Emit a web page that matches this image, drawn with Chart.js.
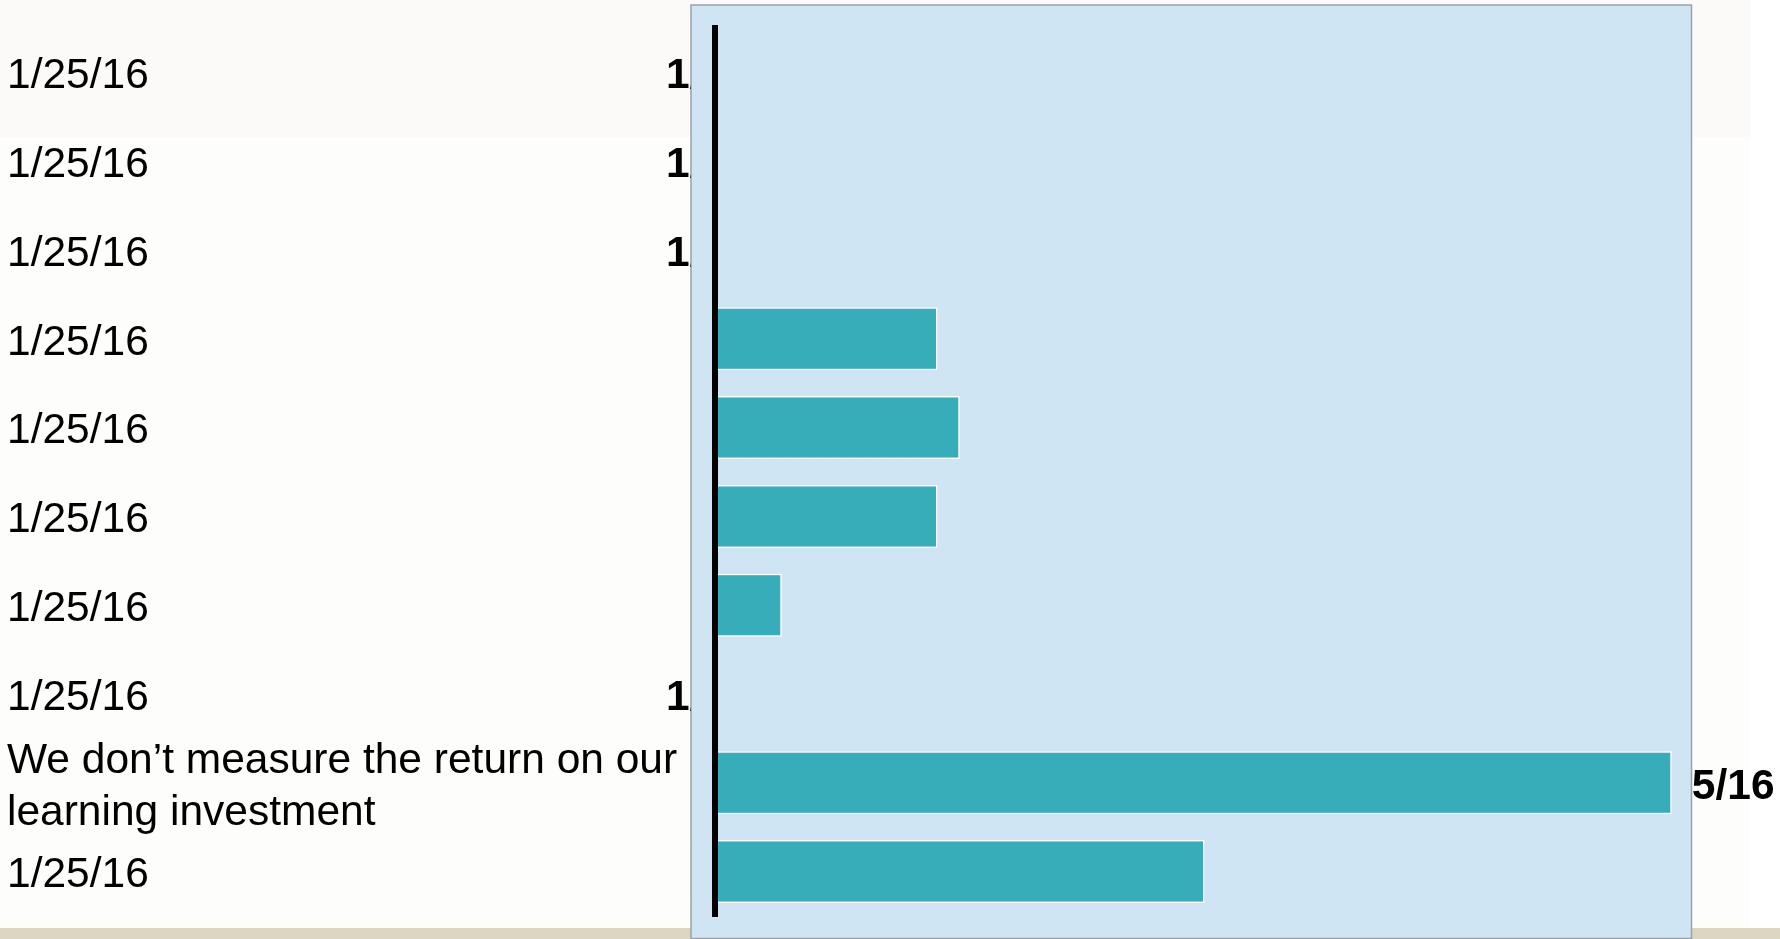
<!DOCTYPE html>
<html>
<head>
<meta charset="utf-8">
<script src="https://cdn.jsdelivr.net/npm/chart.js@4/dist/chart.umd.min.js"></script>
<style>
  html, body { margin: 0; padding: 0; background: #fdfdfb; overflow: hidden; }
  canvas { display: block; }
</style>
</head>
<body>
<canvas id="chart" width="1780" height="939"></canvas>
<script>
// Survey answers (category axis) and share of respondents, in percent
const categories = [
  '1/25/16',
  '1/25/16',
  '1/25/16',
  '1/25/16',
  '1/25/16',
  '1/25/16',
  '1/25/16',
  '1/25/16',
  ['We don\u2019t measure the return on our', 'learning investment'],
  '1/25/16'
];
const values = [0, 0, 0, 10, 11, 10, 3, 0, 43, 22];
const valueLabels = [
  '1/25/16', '1/25/16', '1/25/16', '1/25/16', '1/25/16',
  '1/25/16', '1/25/16', '1/25/16', '1/25/16', '1/25/16'
];
const valueAxisMax = 44;

const FONT = '"Liberation Sans", Arial, Helvetica, sans-serif';
const FONT_SIZE = 42.5;
const BAR_COLOR = '#37adb9';
const PANEL_FILL = '#cfe5f3';
const PANEL_EDGE = '#9ca1a6';
// light blue plot panel behind the bars
const PANEL = { left: 691, top: 5, right: 1691.5, bottom: 938.5 };

const slideBackground = {
  id: 'slideBackground',
  beforeDraw(chart) {
    const { ctx, width, height } = chart;
    ctx.save();
    ctx.fillStyle = '#fdfdfb';
    ctx.fillRect(0, 0, width, height);
    ctx.fillStyle = '#fbfaf8';
    ctx.fillRect(0, 0, 1750, 137);
    ctx.fillStyle = '#ffffff';
    ctx.fillRect(1750, 0, width - 1750, height);
    ctx.fillStyle = '#ddd6c1';
    ctx.fillRect(0, 928, width, height - 928);

    ctx.fillStyle = PANEL_FILL;
    ctx.fillRect(PANEL.left, PANEL.top, PANEL.right - PANEL.left, PANEL.bottom - PANEL.top);
    ctx.strokeStyle = PANEL_EDGE;
    ctx.lineWidth = 1.5;
    ctx.strokeRect(PANEL.left, PANEL.top, PANEL.right - PANEL.left, PANEL.bottom - PANEL.top);
    ctx.restore();
  }
};

// Value labels sit past each bar end; the panel hides the parts that fall on it
const barValueLabels = {
  id: 'barValueLabels',
  afterDraw(chart) {
    const { ctx } = chart;
    const xScale = chart.scales.x;
    const meta = chart.getDatasetMeta(0);
    ctx.save();
    ctx.beginPath();
    ctx.rect(0, 0, chart.width, chart.height);
    ctx.rect(PANEL.left, PANEL.top, PANEL.right - PANEL.left, PANEL.bottom - PANEL.top);
    ctx.clip('evenodd');
    ctx.font = 'bold ' + FONT_SIZE + 'px ' + FONT;
    ctx.fillStyle = '#000000';
    ctx.textAlign = 'center';
    ctx.textBaseline = 'middle';
    meta.data.forEach((bar, i) => {
      const v = values[i];
      const x = xScale.getPixelForValue(v) + 22 + v * 0.23;
      ctx.fillText(valueLabels[i], x, bar.y + 4);
    });
    ctx.restore();
  }
};

new Chart(document.getElementById('chart'), {
  type: 'bar',
  data: {
    labels: categories,
    datasets: [{
      data: values,
      backgroundColor: BAR_COLOR,
      borderColor: '#ffffff',
      borderWidth: 1.5,
      borderSkipped: 'start',
      barPercentage: 0.71,
      categoryPercentage: 1
    }]
  },
  options: {
    indexAxis: 'y',
    responsive: false,
    animation: false,
    devicePixelRatio: 1,
    layout: { padding: { left: 7, top: 28, right: 86, bottom: 23 } },
    plugins: {
      legend: { display: false },
      tooltip: { enabled: false }
    },
    scales: {
      x: {
        type: 'linear',
        min: 0,
        max: valueAxisMax,
        display: false
      },
      y: {
        type: 'category',
        grid: { display: false },
        border: { display: true, color: '#000000', width: 6, z: 1 },
        ticks: {
          autoSkip: false,
          crossAlign: 'far',
          labelOffset: 4,
          color: '#000000',
          font: { family: FONT, size: FONT_SIZE, lineHeight: '52px' }
        },
        afterFit(scale) {
          scale.width = 708;
          scale.paddingTop = 0;
          scale.paddingBottom = 0;
        }
      }
    }
  },
  plugins: [slideBackground, barValueLabels]
});
</script>
</body>
</html>
